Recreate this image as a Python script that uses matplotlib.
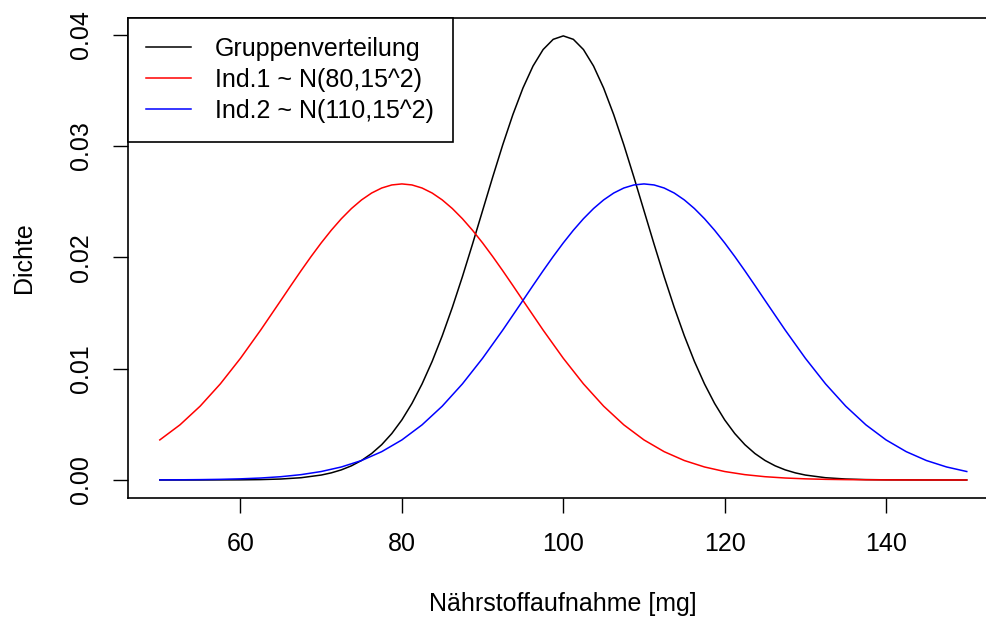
import matplotlib
matplotlib.use("Agg")
import matplotlib.pyplot as plt

plt.rcParams['font.family'] = ['Liberation Sans', 'DejaVu Sans']

# Gruppenverteilung (finer grid near the peak)
x_gruppe = [50, 55, 60, 62.5, 65, 67.5,
            70, 71.25, 72.5, 73.75, 75, 76.25, 77.5, 78.75, 80, 81.25, 82.5, 83.75,
            85, 86.25, 87.5, 88.75, 90, 91.25, 92.5, 93.75, 95, 96.25, 97.5, 98.75,
            100, 101.25, 102.5, 103.75, 105, 106.25, 107.5, 108.75, 110, 111.25, 112.5,
            113.75, 115, 116.25, 117.5, 118.75, 120, 121.25, 122.5, 123.75, 125, 126.25,
            127.5, 128.75, 130,
            132.5, 135, 137.5, 140, 145, 150]
gruppe = [0.0000002, 0.0000016, 0.0000134, 0.000035, 0.000087, 0.000203,
          0.000443, 0.000640, 0.000909, 0.001273, 0.001753, 0.002377, 0.003174, 0.004173,
          0.005399, 0.006879, 0.008628, 0.010653, 0.012952, 0.015502, 0.018265, 0.021187,
          0.024197, 0.027205, 0.030114, 0.032816, 0.035207, 0.037186, 0.038667, 0.039584,
          0.039894,
          0.039584, 0.038667, 0.037186, 0.035207, 0.032816, 0.030114, 0.027205, 0.024197,
          0.021187, 0.018265, 0.015502, 0.012952, 0.010653, 0.008628, 0.006879, 0.005399,
          0.004173, 0.003174, 0.002377, 0.001753, 0.001273, 0.000909, 0.000640, 0.000443,
          0.000203, 0.000087, 0.000035, 0.0000134, 0.0000016, 0.0000002]

# Ind.1
x_ind1 = [50, 52.5, 55, 57.5, 60, 62.5, 65, 66.25, 67.5, 68.75, 70, 71.25, 72.5, 73.75,
          75, 76.25, 77.5, 78.75, 80, 81.25, 82.5, 83.75, 85, 86.25, 87.5, 88.75, 90,
          91.25, 92.5, 93.75, 95, 97.5, 100, 102.5, 105, 107.5, 110, 112.5, 115, 117.5,
          120, 122.5, 125, 127.5, 130, 132.5, 135, 137.5, 140, 142.5, 145, 147.5, 150]
ind1 = [0.003599, 0.004954, 0.006632, 0.008634, 0.010934, 0.013467, 0.016131, 0.017473,
        0.018795, 0.020076, 0.021297, 0.022435, 0.023471, 0.024385, 0.025159, 0.025778,
        0.026229, 0.026504, 0.026596, 0.026504, 0.026229, 0.025778, 0.025159, 0.024385,
        0.023471, 0.022435, 0.021297, 0.020076, 0.018795, 0.017473, 0.016131, 0.013467,
        0.010934, 0.008634, 0.006632, 0.004954, 0.003599, 0.002544, 0.001748, 0.001169,
        0.000760, 0.000480, 0.000295, 0.000177, 0.000103, 0.0000582, 0.000032, 0.0000171,
        0.0000089, 0.0000045, 0.0000022, 0.0000011, 0.0000005]

# Ind.2
x_ind2 = [50, 52.5, 55, 57.5, 60, 62.5, 65, 67.5, 70, 72.5, 75, 77.5, 80, 82.5, 85, 87.5,
          90, 92.5, 95, 96.25, 97.5, 98.75, 100, 101.25, 102.5, 103.75, 105, 106.25, 107.5,
          108.75, 110, 111.25, 112.5, 113.75, 115, 116.25, 117.5, 118.75, 120, 121.25,
          122.5, 123.75, 125, 127.5, 130, 132.5, 135, 137.5, 140, 142.5, 145, 147.5, 150]
ind2 = [0.0000089, 0.0000171, 0.000032, 0.0000582, 0.000103, 0.000177, 0.000295, 0.000480,
        0.000760, 0.001169, 0.001748, 0.002544, 0.003599, 0.004954, 0.006632, 0.008634,
        0.010934, 0.013467, 0.016131, 0.017473, 0.018795, 0.020076, 0.021297, 0.022435,
        0.023471, 0.024385, 0.025159, 0.025778, 0.026229, 0.026504, 0.026596, 0.026504,
        0.026229, 0.025778, 0.025159, 0.024385, 0.023471, 0.022435, 0.021297, 0.020076,
        0.018795, 0.017473, 0.016131, 0.013467, 0.010934, 0.008634, 0.006632, 0.004954,
        0.003599, 0.002544, 0.001748, 0.001169, 0.000760]

labels = ["Gruppenverteilung", "Ind.1 ~ N(80,15^2)", "Ind.2 ~ N(110,15^2)"]
xticks = [60, 80, 100, 120, 140]
yticks = [0.00, 0.01, 0.02, 0.03, 0.04]

fs = 18
fig = plt.figure(figsize=(9.87, 6.17), dpi=100)
ax = fig.add_axes([0.1292, 0.1932, 0.883, 0.7776])

ax.plot(x_gruppe, gruppe, color="black", lw=1.1, label=labels[0])
ax.plot(x_ind1, ind1, color="red", lw=1.1, label=labels[1])
ax.plot(x_ind2, ind2, color="blue", lw=1.1, label=labels[2])

ax.set_xlim(46, 154)
ax.set_ylim(-0.0016, 0.0415)
ax.set_xticks(xticks)
ax.set_xticklabels([str(t) for t in xticks])
ax.set_yticks(yticks)
ax.set_yticklabels(["%.2f" % t for t in yticks], rotation=90, va="center")
ax.tick_params(axis="both", direction="out", length=10.8, width=1, labelsize=fs, pad=14)

for s in ax.spines.values():
    s.set_linewidth(1.2)

ax.set_xlabel("Nährstoffaufnahme [mg]", fontsize=fs, labelpad=26)
ax.set_ylabel("Dichte", fontsize=fs, labelpad=24)

leg = ax.legend(loc="upper left", bbox_to_anchor=(0, 1), borderaxespad=0,
                fontsize=fs, fancybox=False, edgecolor="black", framealpha=1,
                handlelength=1.8, handletextpad=0.95, labelspacing=0.28, borderpad=0.75)
leg.get_frame().set_linewidth(1.2)

fig.savefig("out.png", dpi=100)
